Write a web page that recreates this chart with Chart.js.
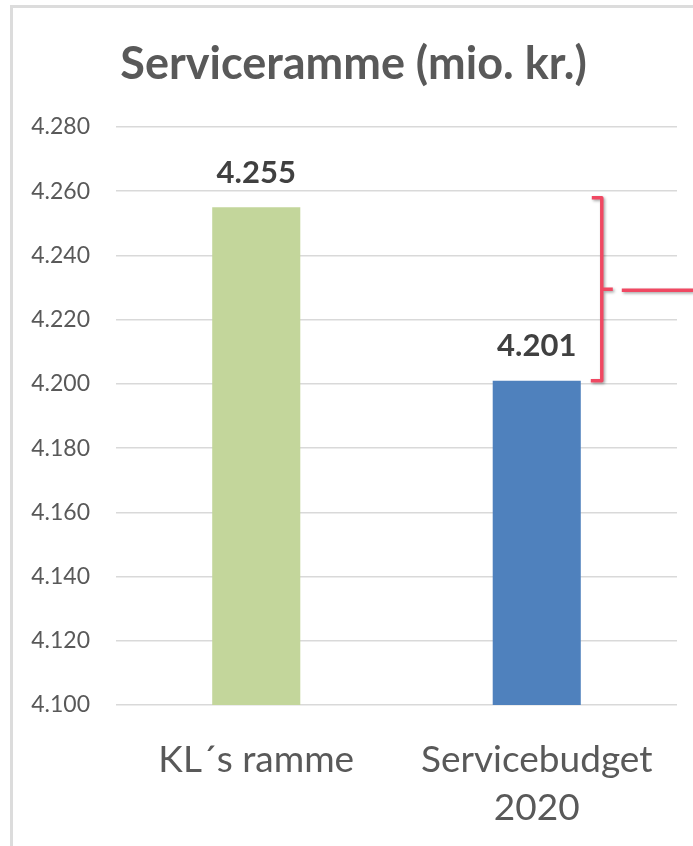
<!DOCTYPE html>
<html>
<head>
<meta charset="utf-8">
<script src="https://cdn.jsdelivr.net/npm/chart.js@4"></script>
<style>
  html, body { margin: 0; padding: 0; background: #ffffff; }
  #wrap { width: 693px; height: 846px; position: relative; }
</style>
</head>
<body>
<div id="wrap"><canvas id="c"></canvas></div>
<script>
// ---- data ----
const chartTitle = 'Serviceramme (mio. kr.)';
const categories = ['KL´s ramme', ['Servicebudget', '2020']];
const values = [4255, 4201];
const barColors = ['#c3d69b', '#4f81bd'];
const yTickValues = [4100, 4120, 4140, 4160, 4180, 4200, 4220, 4240, 4260, 4280];
const bracketRange = [4258, 4201]; // top / bottom of the difference bracket

const fmt = v => String(Math.round(v)).replace(/\B(?=(\d{3})+(?!\d))/g, '.');

const framePlugin = {
  id: 'frame',
  beforeDraw(chart) {
    const ctx = chart.ctx;
    ctx.save();
    ctx.fillStyle = '#ffffff';
    ctx.fillRect(0, 0, chart.width, chart.height);
    ctx.strokeStyle = '#dcdcdc';
    ctx.lineWidth = 3;
    ctx.beginPath();
    ctx.moveTo(11.5, chart.height);
    ctx.lineTo(11.5, 6.5);
    ctx.lineTo(chart.width, 6.5);
    ctx.stroke();
    ctx.restore();
  }
};

const labelPlugin = {
  id: 'valueLabels',
  afterDatasetsDraw(chart) {
    const ctx = chart.ctx;
    const meta = chart.getDatasetMeta(0);
    ctx.save();
    ctx.font = 'bold 31px Lato';
    ctx.fillStyle = '#404040';
    ctx.textAlign = 'center';
    ctx.textBaseline = 'bottom';
    meta.data.forEach((bar, i) => {
      ctx.fillText(fmt(values[i]), bar.x, bar.y - 19);
    });
    ctx.restore();
  }
};

const bracketPlugin = {
  id: 'bracket',
  afterDatasetsDraw(chart) {
    const ctx = chart.ctx;
    const y = chart.scales.y;
    const bar = chart.getDatasetMeta(0).data[1];
    const right = bar.x + bar.width / 2;
    const xv = right + 21;
    const yTop = y.getPixelForValue(bracketRange[0]);
    const yBot = y.getPixelForValue(bracketRange[1]);
    const yMid = (yTop + yBot) / 2;
    ctx.save();
    ctx.strokeStyle = '#f04862';
    ctx.lineWidth = 3.5;
    ctx.lineJoin = 'round';
    ctx.shadowColor = 'rgba(0,0,0,0.35)';
    ctx.shadowBlur = 3;
    ctx.shadowOffsetX = 1.5;
    ctx.shadowOffsetY = 1.5;
    ctx.beginPath();
    ctx.moveTo(xv - 10, yTop);
    ctx.lineTo(xv, yTop);
    ctx.lineTo(xv, yBot);
    ctx.lineTo(xv - 11, yBot);
    ctx.moveTo(xv, yMid);
    ctx.lineTo(xv + 11, yMid);
    ctx.moveTo(xv + 20, yMid + 1);
    ctx.lineTo(chart.width, yMid + 1);
    ctx.stroke();
    ctx.restore();
  }
};

new Chart(document.getElementById('c'), {
  type: 'bar',
  data: {
    labels: categories,
    datasets: [{
      data: values,
      backgroundColor: barColors,
      borderWidth: 0,
      categoryPercentage: 1,
      barPercentage: 0.314
    }]
  },
  options: {
    responsive: true,
    maintainAspectRatio: false,
    animation: false,
    events: [],
    layout: { padding: { left: 30, right: 16, top: 0, bottom: 0 } },
    plugins: {
      legend: { display: false },
      tooltip: { enabled: false },
      title: {
        display: true,
        text: chartTitle,
        color: '#595959',
        font: { family: 'Lato', size: 45, weight: 'bold', lineHeight: 1.2 },
        padding: { top: 37, bottom: 36 }
      }
    },
    scales: {
      x: {
        grid: { display: false },
        border: { display: false },
        ticks: {
          color: '#595959',
          font: { family: 'Lato', size: 37, lineHeight: 1.3 },
          padding: 23,
          maxRotation: 0,
          autoSkip: false
        },
        afterFit(scale) { scale.height = 141; }
      },
      y: {
        min: yTickValues[0],
        max: yTickValues[yTickValues.length - 1],
        afterBuildTicks(scale) { scale.ticks = yTickValues.map(v => ({ value: v })); },
        grid: { color: '#d9d9d9', lineWidth: 1.5, drawTicks: false },
        border: { display: false },
        ticks: {
          color: '#595959',
          font: { family: 'Lato', size: 23 },
          padding: 26,
          callback: v => fmt(v)
        },
        afterFit(scale) { scale.width = 86; }
      }
    }
  },
  plugins: [framePlugin, labelPlugin, bracketPlugin]
});
</script>
</body>
</html>
